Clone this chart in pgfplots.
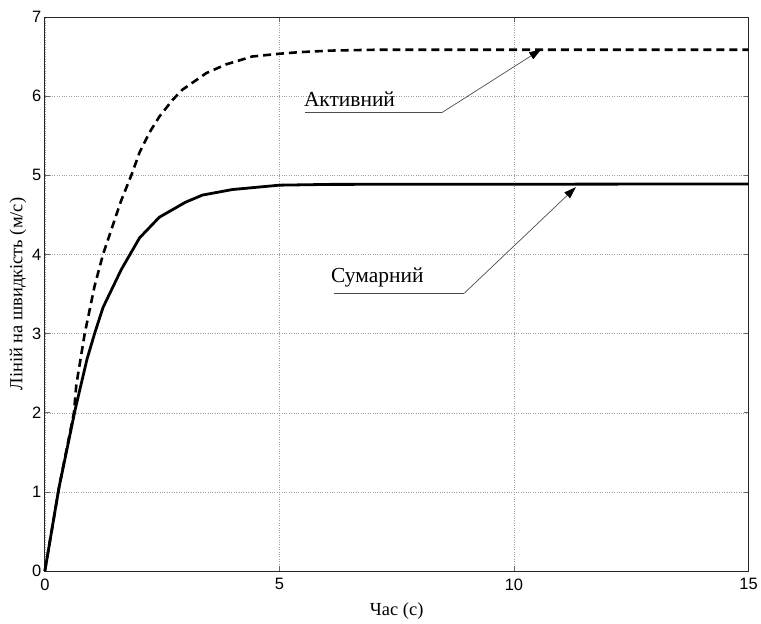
\documentclass[border=0pt]{standalone}
\usepackage{fontspec}
\setmainfont{Liberation Serif}
\newfontfamily\tickfont{Liberation Sans}
\usepackage{pgfplots}
\pgfplotsset{compat=1.18}
\usetikzlibrary{arrows.meta}

\begin{document}
\begin{tikzpicture}
\begin{axis}[
  scale only axis, width=706pt, height=556pt,
  xmin=0, xmax=15, ymin=0, ymax=7,
  xtick={0,5,10,15}, ytick={0,1,2,3,4,5,6,7},
  grid=major,
  major grid style={dotted, gray!75, line width=0.55pt},
  tick align=inside, major tick length=5pt,
  tick style={gray!80!black, line width=0.8pt},
  axis line style={black!85, line width=0.8pt},
  /pgf/number format/assume math mode=true,
  tick label style={font=\fontsize{16.5}{17}\selectfont\tickfont},
  xticklabel style={yshift=-4pt},
  xlabel={Час (с)},
  ylabel={Лінiй на швидкість (м/с)},
  label style={font=\fontsize{18.5}{19}\selectfont},
  xlabel style={yshift=-6pt},
  ylabel style={yshift=-1pt},
  clip=false,
]
\addplot[black, line width=2.6pt, dash pattern=on 8pt off 5pt] coordinates {
 (0,0) (0.3,1.05) (0.62,2.0) (0.67,2.35) (0.85,3.0) (1.06,3.6) (1.24,4.0)
 (1.62,4.67) (1.85,5.01) (2.02,5.29) (2.23,5.54) (2.44,5.74) (2.72,5.95)
 (2.93,6.08) (3.44,6.29) (3.86,6.40) (4.42,6.50) (5.0,6.535) (5.42,6.555)
 (6.1,6.575) (7,6.585) (15,6.585)
};
\addplot[black, line width=2.8pt] coordinates {
 (0,0) (0.3,1.05) (0.65,2.05) (0.9,2.68) (1.06,3.0) (1.24,3.33) (1.63,3.81)
 (2.02,4.21) (2.44,4.47) (3.0,4.66) (3.36,4.75) (4.0,4.82) (5.0,4.875)
 (6.1,4.885) (15,4.89)
};
% annotations
\draw[gray!60!black, line width=0.7pt] (axis cs:5.55,5.79) -- (axis cs:8.46,5.79);
\draw[gray!60!black, line width=0.7pt, -{Stealth[length=12pt,width=8pt,inset=0pt,black]}]
  (axis cs:8.46,5.79) -- (axis cs:10.58,6.59);
\node[anchor=base west, inner sep=0pt, font=\fontsize{21.5}{22}\selectfont] at (axis cs:5.52,5.87) {Активний};
\draw[gray!60!black, line width=0.7pt] (axis cs:6.16,3.51) -- (axis cs:8.94,3.51);
\draw[gray!60!black, line width=0.7pt, -{Stealth[length=12pt,width=8pt,inset=0pt,black]}]
  (axis cs:8.94,3.51) -- (axis cs:11.32,4.85);
\node[anchor=base west, inner sep=0pt, font=\fontsize{21.5}{22}\selectfont] at (axis cs:6.10,3.65) {Сумарний};
\coordinate (bl) at (rel axis cs:0,0);
\coordinate (tr) at (rel axis cs:1,1);
\end{axis}
\path ([shift={(-45pt,-47pt)}]bl) rectangle ([shift={(10pt,17pt)}]tr);
\end{tikzpicture}
\end{document}
